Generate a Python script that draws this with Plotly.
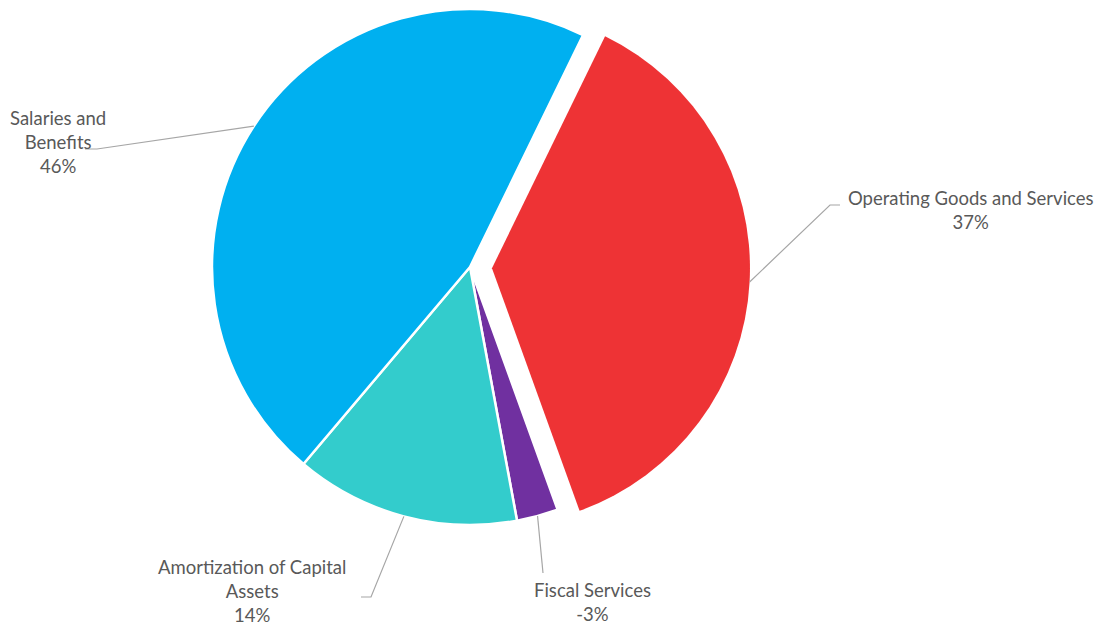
import math
import plotly.graph_objects as go

# expense categories, in the order they run clockwise from the top
categories = ["Operating Goods and Services", "Fiscal Services",
              "Amortization of Capital Assets", "Salaries and Benefits"]
wrapped_names = ["Operating Goods and Services", "Fiscal Services",
                 "Amortization of Capital<br>Assets", "Salaries and<br>Benefits"]
shares = [37.3, -2.6, 14.1, 46.1]  # % of total, fiscal services is negative
colors = ["#EE3335", "#7030A0", "#33CCCC", "#00B0F0"]
exploded = "Operating Goods and Services"

# page geometry (pixels) -- pie centre, radius, explode distance
W, H = 1100, 626
CX, CY, R = 470, 267, 258
START_DEG = 26
PULL_PX = 22

# where each label sits and the bend / end of its leader line (pixels)
label_xy = [(971, 210), (592, 602), (252, 591), (58, 142)]
elbow_xy = [(830, 205), (543, 573), (371, 597), (97, 149)]
tail_xy = [(840, 205), (543, 573), (361, 597), (85, 149)]

TEXT_GREY = "#595959"
LINE_GREY = "#A6A6A6"


def px(x, y):
    return x / W, 1 - y / H


def domain(cx, cy):
    return dict(x=[(cx - R) / W, (cx + R) / W], y=[1 - (cy + R) / H, 1 - (cy - R) / H])


values = [abs(s) for s in shares]
total = sum(values)
percents = [s / total * 100 for s in shares]

# mid angle of every slice (clockwise from 12 o'clock)
mids = []
acc = START_DEG
for v in values:
    span = 360 * v / total
    mids.append(acc + span / 2)
    acc += span

ex = categories.index(exploded)
ex_cx = CX + PULL_PX * math.sin(math.radians(mids[ex]))
ex_cy = CY - PULL_PX * math.cos(math.radians(mids[ex]))

fig = go.Figure()

# main pie -- exploded slice drawn separately so the radius is not shrunk
main_colors = ["rgba(0,0,0,0)" if c == exploded else col for c, col in zip(categories, colors)]
fig.add_trace(go.Pie(
    labels=categories, values=values, sort=False, direction="clockwise",
    rotation=START_DEG, textinfo="none", hoverinfo="label+percent",
    marker=dict(colors=main_colors,
                line=dict(color="white", width=[0 if c == exploded else 2.5 for c in categories])),
    domain=domain(CX, CY), showlegend=False,
))
ex_colors = [col if c == exploded else "rgba(0,0,0,0)" for c, col in zip(categories, colors)]
fig.add_trace(go.Pie(
    labels=categories, values=values, sort=False, direction="clockwise",
    rotation=START_DEG, textinfo="none", hoverinfo="label+percent",
    marker=dict(colors=ex_colors, line=dict(color="white", width=0)),
    domain=domain(ex_cx, ex_cy), showlegend=False,
))

annotations = []
shapes = []
for i, name in enumerate(wrapped_names):
    a = math.radians(mids[i])
    cx, cy = (ex_cx, ex_cy) if i == ex else (CX, CY)
    sx, sy = px(cx + R * math.sin(a), cy - R * math.cos(a))
    bx, by = px(*elbow_xy[i])
    tx, ty = px(*tail_xy[i])
    shapes.append(dict(type="path", xref="paper", yref="paper",
                       path=f"M {sx} {sy} L {bx} {by} L {tx} {ty}",
                       line=dict(color=LINE_GREY, width=1.2)))
    lx, ly = px(*label_xy[i])
    annotations.append(dict(x=lx, y=ly, xref="paper", yref="paper",
                            text=f"{name}<br>{round(percents[i])}%",
                            showarrow=False, align="center",
                            xanchor="center", yanchor="middle",
                            font=dict(family="Lato", size=18.5, color=TEXT_GREY)))

fig.update_layout(
    width=W, height=H,
    margin=dict(l=0, r=0, t=0, b=0),
    paper_bgcolor="white", plot_bgcolor="white",
    annotations=annotations, shapes=shapes,
)

# drop the browser's default body margin so the figure fills the window
fig.write_html("out.html", config={"displayModeBar": False},
               post_script="document.body.style.margin = '0';")
